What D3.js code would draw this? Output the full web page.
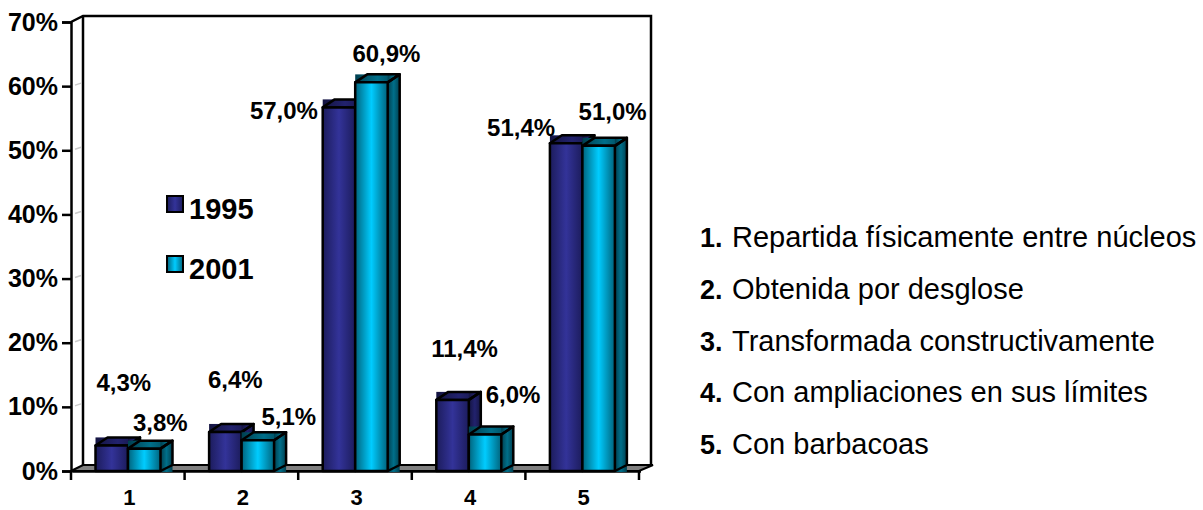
<!DOCTYPE html>
<html>
  <head>
    <title>Viviendas</title>
    <style>
      body { margin: 0; padding: 0; overflow: hidden; background: #fff; }
      svg { display: block; }
      text { font-family: "Liberation Sans", Arial, sans-serif; fill: #000; }
    </style>
    <script src="https://d3js.org/d3.v7.min.js"></script>
  </head>
  <body>
    <svg width="1203" height="510"></svg>
    <script>
      // Datos
      const categories = ['1', '2', '3', '4', '5'];
      const years = ['1995', '2001'];
      const values1995 = [4.3, 6.4, 57.0, 11.4, 51.4];
      const values2001 = [3.8, 5.1, 60.9, 6.0, 51.0];
      const yTicks = [0, 10, 20, 30, 40, 50, 60, 70];
      const notes = [
        'Repartida físicamente entre núcleos',
        'Obtenida por desglose',
        'Transformada constructivamente',
        'Con ampliaciones en sus límites',
        'Con barbacoas'
      ];

      const svg = d3.select('svg');
      const depthX = 12, depthY = 6;
      const barDepthY = 8, barDrop = 2; // la cara frontal queda algo por debajo de la escala
      const fmt = v => v.toFixed(1).replace('.', ',') + '%';

      const x = d3.scaleBand().domain(categories).range([71, 639]);
      const inner = d3.scaleBand().domain(years).range([24.5, 89.5]);
      const y = d3.scaleLinear().domain([0, 70]).range([471, 22]);

      // Degradados
      const defs = svg.append('defs');
      const gradient = (id, edge, mid) => {
        const g = defs.append('linearGradient').attr('id', id);
        g.append('stop').attr('offset', '0%').attr('stop-color', edge);
        g.append('stop').attr('offset', '50%').attr('stop-color', mid);
        g.append('stop').attr('offset', '100%').attr('stop-color', edge);
      };
      gradient('navy', '#1c1c5c', '#333399');
      gradient('navyDark', '#141440', '#22226e');
      gradient('cyan', '#00637c', '#00ccff');
      gradient('cyanDark', '#003f4f', '#006f8a');

      const styles = {
        1995: { front: 'url(#navy)', dark: 'url(#navyDark)' },
        2001: { front: 'url(#cyan)', dark: 'url(#cyanDark)' }
      };

      const x0 = x.range()[0], x1 = x.range()[1], y0 = y(0), yTop = y(70);

      // Pared del fondo y suelo
      svg.append('path')
        .attr('d', `M${x0},${yTop}L${x0 + depthX},${yTop - depthY}H${x1 + depthX}V${y0 - depthY}`)
        .attr('fill', 'none').attr('stroke', '#000').attr('stroke-width', 2.5);
      svg.append('line')
        .attr('x1', x0 + depthX).attr('x2', x0 + depthX)
        .attr('y1', yTop - depthY).attr('y2', y0 - depthY)
        .attr('stroke', '#000').attr('stroke-width', 2.5);
      svg.append('path')
        .attr('d', `M${x0},${y0}L${x0 + depthX},${y0 - depthY}H${x1 + depthX + 2}L${x1},${y0}Z`)
        .attr('fill', '#808080').attr('stroke', '#000').attr('stroke-width', 2);
      svg.selectAll('.wallTick').data(yTicks.slice(1, -1)).enter().append('line')
        .attr('x1', x0 + 4).attr('x2', x0 + depthX - 2)
        .attr('y1', d => y(d) - 1).attr('y2', d => y(d) - 3)
        .attr('stroke', '#ccc').attr('stroke-width', 1.5);

      // Ejes
      const yAxis = svg.append('g').attr('transform', `translate(${x0},0)`)
        .call(d3.axisLeft(y).tickValues(yTicks).tickFormat(d => d + '%').tickSize(9).tickPadding(4));
      yAxis.selectAll('text').attr('font-size', 25).attr('font-weight', 'bold')
        .style('font-family', '"Liberation Sans", Arial, sans-serif');

      const xAxis = svg.append('g').attr('transform', `translate(1.5,${y0})`)
        .call(d3.axisBottom(x).tickSizeOuter(0).tickSize(0).tickPadding(18));
      xAxis.selectAll('text').attr('font-size', 22).attr('font-weight', 'bold')
        .style('font-family', '"Liberation Sans", Arial, sans-serif');
      xAxis.selectAll('.tickMark')
        .data(categories.concat('end')).enter().append('line')
        .attr('x1', (d, i) => x0 - 1.5 + i * x.step()).attr('x2', (d, i) => x0 - 1.5 + i * x.step())
        .attr('y1', 0).attr('y2', 9);
      svg.selectAll('.domain, .tick line, g line').attr('stroke', '#000').attr('stroke-width', 2.5);

      // Barras 3D
      const rows = years.flatMap((year, s) =>
        categories.map((cat, i) => ({ year, cat, value: (s === 0 ? values1995 : values2001)[i] })));

      categories.forEach(cat => {
        years.forEach(year => {
          const d = rows.find(r => r.cat === cat && r.year === year);
          const bx = x(cat) + inner(year), w = inner.bandwidth(), ty = y(d.value) + barDrop;
          const g = svg.append('g').attr('stroke-linejoin', 'round');
          const st = styles[year];
          // relleno trasero: caras superior y lateral
          g.append('rect').attr('x', bx).attr('y', ty - barDepthY)
            .attr('width', w + depthX).attr('height', barDepthY)
            .attr('fill', st.dark);
          g.append('rect').attr('x', bx + w).attr('y', ty - barDepthY)
            .attr('width', depthX).attr('height', y0 - ty + barDepthY + 1)
            .attr('fill', st.dark);
          g.append('path')
            .attr('d', `M${bx},${ty}L${bx + depthX},${ty - barDepthY}H${bx + w + depthX}L${bx + w},${ty}Z`)
            .attr('fill', 'none').attr('stroke', '#000').attr('stroke-width', 2.5);
          g.append('path')
            .attr('d', `M${bx + w},${ty}L${bx + w + depthX},${ty - barDepthY}V${y0 - depthY}L${bx + w},${y0}`)
            .attr('fill', 'none').attr('stroke', '#000').attr('stroke-width', 2.5);
          g.append('rect').attr('x', bx).attr('y', ty)
            .attr('width', w).attr('height', y0 - ty)
            .attr('fill', st.front).attr('stroke', '#000').attr('stroke-width', 2.5);
        });
      });

      // Etiquetas de valor (desplazamiento respecto a la barra)
      const labelShift = {
        1995: [[12, -52], [10, -42], [-55, 14], [12, -41], [-45, -5]],
        2001: [[16, -16], [31, -13], [15, -18], [28, -30], [14, -24]]
      };
      rows.forEach(d => {
        const i = categories.indexOf(d.cat);
        const bx = x(d.cat) + inner(d.year) + inner.bandwidth() / 2;
        const s = labelShift[d.year][i];
        svg.append('text')
          .attr('x', bx + s[0]).attr('y', y(d.value) + s[1])
          .attr('text-anchor', 'middle')
          .attr('font-size', 24).attr('font-weight', 'bold')
          .text(fmt(d.value));
      });

      // Leyenda
      const legendY = d3.scalePoint().domain(years).range([204, 264]);
      years.forEach(year => {
        svg.append('rect').attr('x', 167).attr('y', legendY(year) - 8)
          .attr('width', 16).attr('height', 16)
          .attr('fill', styles[year].front).attr('stroke', '#000').attr('stroke-width', 2);
        svg.append('text').attr('x', 189).attr('y', legendY(year) + 15)
          .attr('font-size', 29).attr('font-weight', 'bold').text(year);
      });

      // Lista de la derecha
      const noteY = d3.scaleLinear().domain([0, 4]).range([247, 454]);
      notes.forEach((note, i) => {
        svg.append('text').attr('x', 700).attr('y', noteY(i))
          .attr('font-size', 27).attr('font-weight', 'bold').text(categories[i] + '.');
        svg.append('text').attr('x', 732).attr('y', noteY(i))
          .attr('font-size', 29).text(note);
      });
    </script>
  </body>
</html>
